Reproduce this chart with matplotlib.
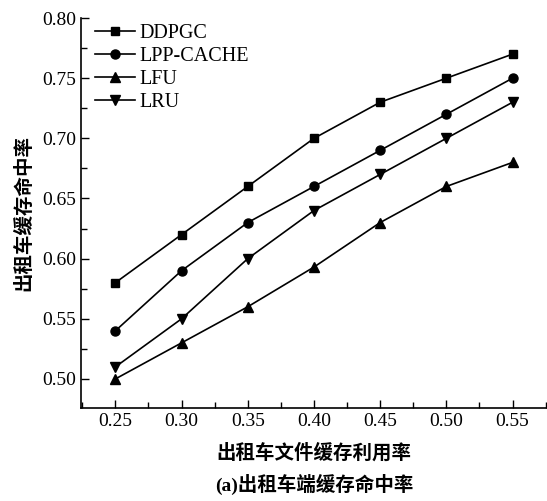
import matplotlib.pyplot as plt
from matplotlib.ticker import MultipleLocator

plt.rcParams['font.family'] = ['Liberation Serif', 'Noto Sans CJK SC']
plt.rcParams['mathtext.fontset'] = 'stix'

# -------------------------------------------------
# Data
# -------------------------------------------------
x_vals = [0.25, 0.30, 0.35, 0.40, 0.45, 0.50, 0.55]
ddpgc = [0.58, 0.62, 0.66, 0.70, 0.73, 0.75, 0.77]
lpp_cache = [0.54, 0.59, 0.63, 0.66, 0.69, 0.72, 0.75]
lfu = [0.50, 0.53, 0.56, 0.593, 0.63, 0.66, 0.68]
lru = [0.51, 0.55, 0.60, 0.64, 0.67, 0.70, 0.73]

series = [
    ("DDPGC", ddpgc, "s", 6),
    ("LPP-CACHE", lpp_cache, "o", 6.5),
    ("LFU", lfu, "^", 7),
    ("LRU", lru, "v", 7),
]

fig = plt.figure(figsize=(5.47, 5.01), dpi=100)
ax = fig.add_axes([0.148, 0.186, 0.852, 0.778])

for name, vals, mk, ms in series:
    ax.plot(x_vals, vals, color="black", linewidth=1.2,
            marker=mk, markersize=ms, label=name)

ax.set_xlim(0.224, 0.576)
ax.set_ylim(0.476, 0.80)
ax.xaxis.set_major_locator(MultipleLocator(0.05))
ax.xaxis.set_minor_locator(MultipleLocator(0.025))
ax.yaxis.set_major_locator(MultipleLocator(0.05))
ax.yaxis.set_minor_locator(MultipleLocator(0.025))
ax.tick_params(which="both", direction="in", labelsize=14, width=1)
ax.tick_params(which="major", length=6)
ax.tick_params(which="minor", length=4)
ax.xaxis.set_major_formatter(plt.FuncFormatter(lambda v, p: f"{v:.2f}"))
ax.yaxis.set_major_formatter(plt.FuncFormatter(lambda v, p: f"{v:.2f}"))

for side in ["top", "right"]:
    ax.spines[side].set_visible(False)
for side in ["left", "bottom"]:
    ax.spines[side].set_linewidth(1.2)

ax.set_ylabel("出租车缓存命中率", fontsize=14, fontweight="bold",
              family=["Noto Sans CJK SC"], labelpad=6)
ax.set_xlabel("出租车文件缓存利用率", fontsize=14, fontweight="bold",
              family=["Noto Sans CJK SC"], labelpad=10)
fig.text(0.5 + 0.074, 0.033, "(a)出租车端缓存命中率", fontsize=14,
         fontweight="bold", ha="center", va="center",
         family=["Liberation Serif", "Noto Sans CJK SC"])

ax.legend(loc="upper left", frameon=False, fontsize=14.5,
          handlelength=2.0, handletextpad=0.2, labelspacing=0.18,
          borderaxespad=0.3, bbox_to_anchor=(0.0, 1.02))

fig.savefig("out.png", dpi=100)
